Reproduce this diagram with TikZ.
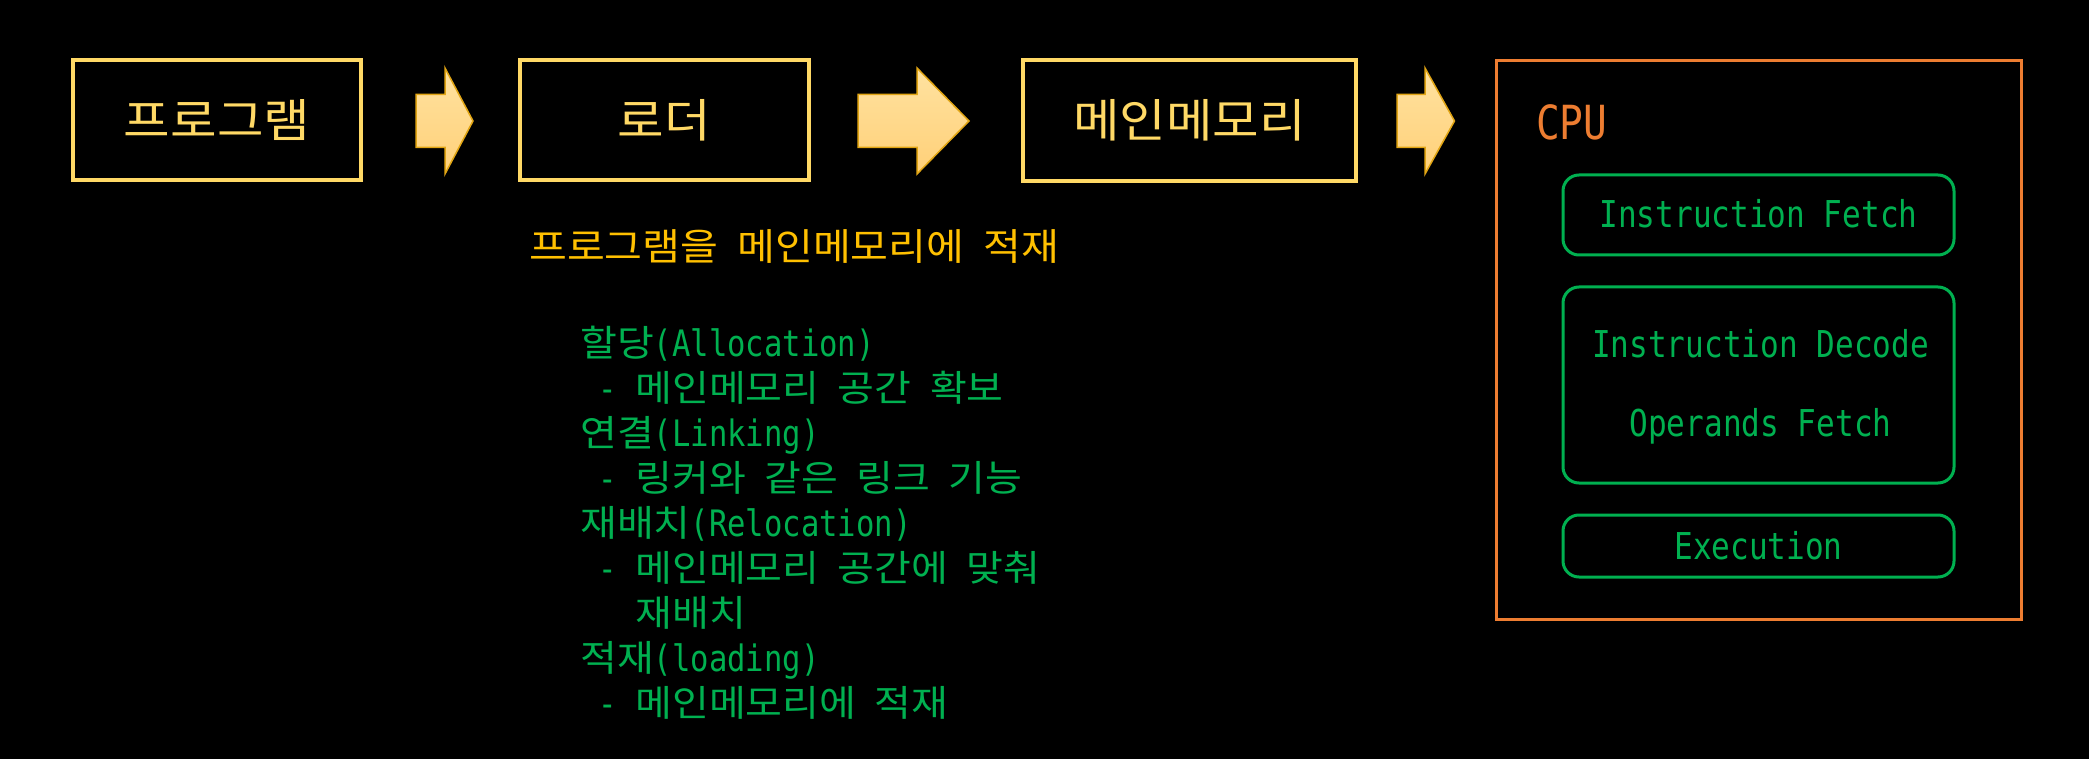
\documentclass[tikz,border=0pt]{standalone}
\usepackage{fontspec}
\setmainfont[FakeStretch=0.84]{DejaVu Sans Mono}
\newfontfamily\krfont[FakeStretch=1.1]{Noto Sans CJK KR}
\newcommand\K[1]{{\krfont #1}}
\definecolor{boxyellow}{HTML}{FFD966}
\definecolor{goldtxt}{HTML}{FFC000}
\definecolor{grn}{HTML}{00B050}
\definecolor{cpuorange}{HTML}{ED7D31}
\definecolor{arrtop}{RGB}{255,226,160}
\definecolor{arrbot}{RGB}{255,208,120}
\definecolor{arredge}{RGB}{225,165,20}
\begin{document}
\begin{tikzpicture}[x=1pt,y=-1pt,
  ybox/.style={draw=boxyellow, line width=4pt, inner sep=0pt, text=boxyellow,
    font=\krfont\fontsize{46}{46}\selectfont, text height=35pt, text depth=0pt},
  gbox/.style={draw=grn, line width=3pt, rounded corners=16pt, inner sep=0pt,
    minimum width=391pt, text=grn, font=\fontsize{37}{37}\selectfont,
    text height=26pt, text depth=0pt},
  gtext/.style={text=grn, font=\fontsize{37}{37}\selectfont, inner sep=0pt, anchor=base},
  listline/.style={text=grn, font=\fontsize{36.4}{45}\selectfont, inner sep=0pt, anchor=base west},
  blockarrow/.style={top color=arrtop, bottom color=arrbot, draw=arredge, line width=1.5pt, line join=miter}
]
\fill[black] (0,0) rectangle (2089,759);
\useasboundingbox (0,0) rectangle (2089,759);

% main boxes
\node[ybox, minimum width=288pt, minimum height=120pt] (prog) at (217,120) {프로그램};
\node[ybox, minimum width=289pt, minimum height=120pt] (loader) at (664.5,120) {로더};
\node[ybox, minimum width=333pt, minimum height=121pt] (mem) at (1189.5,120.5) {메인메모리};

% CPU box
\node[draw=cpuorange, line width=3pt, minimum width=525pt, minimum height=559pt, inner sep=0pt] (cpu) at (1758.5,340) {};
\node[text=cpuorange, font=\fontsize{47}{47}\selectfont, inner sep=0pt, anchor=base west] (cpulbl) at (1536,139.5) {CPU};

\node[gbox, minimum height=80pt] (ifetch) at (1758.5,215) {Instruction Fetch};
\node[gbox, minimum height=196pt] (decbox) at (1758.5,385) {};
\node[gtext] (idec) at (1760.5,358) {Instruction Decode};
\node[gtext] (opf) at (1760.5,436) {Operands Fetch};
\node[gbox, minimum height=62pt] (exec) at (1758.5,546) {Execution};

% block arrows
\shadedraw[blockarrow] (416,94.5) -- (445,94.5) -- (445,68) -- (473,121) -- (445,174) -- (445,147.5) -- (416,147.5) -- cycle;
\shadedraw[blockarrow] (858,94.5) -- (917,94.5) -- (917,68) -- (969,121) -- (917,174) -- (917,147.5) -- (858,147.5) -- cycle;
\shadedraw[blockarrow] (1397,94.5) -- (1425,94.5) -- (1425,68) -- (1454.5,121) -- (1425,174) -- (1425,147.5) -- (1397,147.5) -- cycle;

% loader caption
\node[text=goldtxt, font=\fontsize{37.4}{37.4}\selectfont, inner sep=0pt, anchor=base west] (cap) at (529,261)
  {\K{프로그램을} \K{메인메모리에} \K{적재}};

% loader steps
\node[listline] (l1) at (580,356) {\K{할당}(Allocation)};
\node[listline] (l2) at (580,401) {\hphantom{x}- \K{메인메모리} \K{공간} \K{확보}};
\node[listline] (l3) at (580,446) {\K{연결}(Linking)};
\node[listline] (l4) at (580,491) {\hphantom{x}- \K{링커와} \K{같은} \K{링크} \K{기능}};
\node[listline] (l5) at (580,536) {\K{재배치}(Relocation)};
\node[listline] (l6) at (580,581) {\hphantom{x}- \K{메인메모리} \K{공간에} \K{맞춰}};
\node[listline] (l7) at (580,626) {\hphantom{xxx}\K{재배치}};
\node[listline] (l8) at (580,671) {\K{적재}(loading)};
\node[listline] (l9) at (580,716) {\hphantom{x}- \K{메인메모리에} \K{적재}};
\end{tikzpicture}
\end{document}
